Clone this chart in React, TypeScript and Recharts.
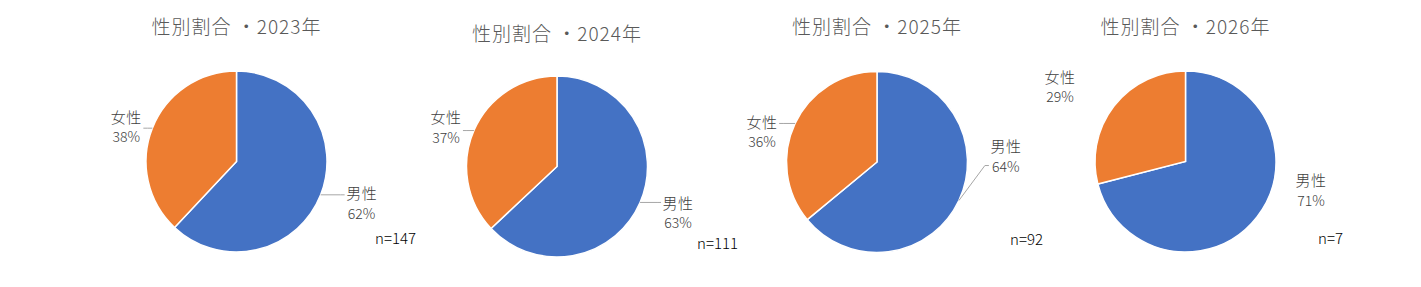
import { PieChart, Pie, Cell } from 'recharts'

const years = ['2023', '2024', '2025', '2026']
const categories = ['男性', '女性']
const malePct = [62, 63, 64, 71]
const femalePct = [38, 37, 36, 29]
const sampleSizes = [147, 111, 92, 7]

const COLORS = ['#4472C4', '#ED7D31']
const FONT = '"Noto Sans CJK JP", "Noto Sans", sans-serif'

// panel layout: pie centre, title row, label block offsets from the slice edge
const panels = [
  { cx: 236.5, cy: 161.5, titleY: 25, male: [41, 8], female: [-26, -2], leader: true, nX: 375, nY: 237 },
  { cx: 557, cy: 166.5, titleY: 32, male: [38, 10], female: [-28, -4], leader: true, nX: 697, nY: 242 },
  { cx: 877, cy: 162, titleY: 25, male: [47, -45], female: [-33, 8], leader: true, nX: 1010, nY: 238 },
  { cx: 1185.5, cy: 161.5, titleY: 25, male: [54, -27], female: [-54, -20], leader: false, nX: 1318, nY: 237 },
]

const RAD = Math.PI / 180

const makeLabel = (panel: any) => (props: any) => {
  const { cx, cy, midAngle, outerRadius, index, name, percent } = props
  const ex = cx + outerRadius * Math.cos(-midAngle * RAD)
  const ey = cy + outerRadius * Math.sin(-midAngle * RAD)
  const [dx, dy] = index === 0 ? panel.male : panel.female
  const lx = ex + dx
  const ly = ey + dy
  const side = dx > 0 ? -1 : 1
  const endX = lx + side * 17
  const endY = Math.min(Math.max(ey, ly - 10), ly + 10)
  return (
    <g>
      {panel.leader && (
        <polyline
          points={`${ex},${ey} ${endX + side * 4},${endY} ${endX},${endY}`}
          fill="none"
          stroke="#A6A6A6"
          strokeWidth={1}
        />
      )}
      <text x={lx} y={ly - 10} textAnchor="middle" dominantBaseline="central" fontSize={15} fontWeight={300} letterSpacing={0.5} fill="#404040" fontFamily={FONT}>
        {name}
      </text>
      <text x={lx} y={ly + 10} textAnchor="middle" dominantBaseline="central" fontSize={14} fontWeight={300} fill="#404040" fontFamily={FONT}>
        {`${Math.round(percent * 100)}%`}
      </text>
    </g>
  )
}

export default function App() {
  return (
    <div style={{ width: 1421, height: 287, background: '#fff' }}>
      <style>{`body{margin:0}`}</style>
      <PieChart width={1421} height={287} margin={{ top: 0, right: 0, bottom: 0, left: 0 }}>
        {years.map((year, i) => {
          const p = panels[i]
          const data = [
            { name: categories[0], value: malePct[i] },
            { name: categories[1], value: femalePct[i] },
          ]
          return (
            <Pie
              key={year}
              data={data}
              dataKey="value"
              nameKey="name"
              cx={p.cx}
              cy={p.cy}
              outerRadius={90.5}
              startAngle={90}
              endAngle={-270}
              stroke="#fff"
              strokeWidth={1.5}
              labelLine={false}
              label={makeLabel(p)}
              isAnimationActive={false}
            >
              {data.map((d, j) => (
                <Cell key={d.name} fill={COLORS[j]} />
              ))}
            </Pie>
          )
        })}
        {years.map((year, i) => (
          <text
            key={`t${year}`}
            x={panels[i].cx}
            y={panels[i].titleY}
            textAnchor="middle"
            dominantBaseline="central"
            fontSize={19}
            fontWeight={300}
            letterSpacing={1}
            fill="#595959"
            fontFamily={FONT}
          >
            {`性別割合 ・${year}年`}
          </text>
        ))}
        {years.map((year, i) => (
          <text
            key={`n${year}`}
            x={panels[i].nX}
            y={panels[i].nY}
            dominantBaseline="central"
            fontSize={15}
            fontWeight={300}
            fill="#000"
            fontFamily={FONT}
          >
            {`n=${sampleSizes[i]}`}
          </text>
        ))}
      </PieChart>
    </div>
  )
}
